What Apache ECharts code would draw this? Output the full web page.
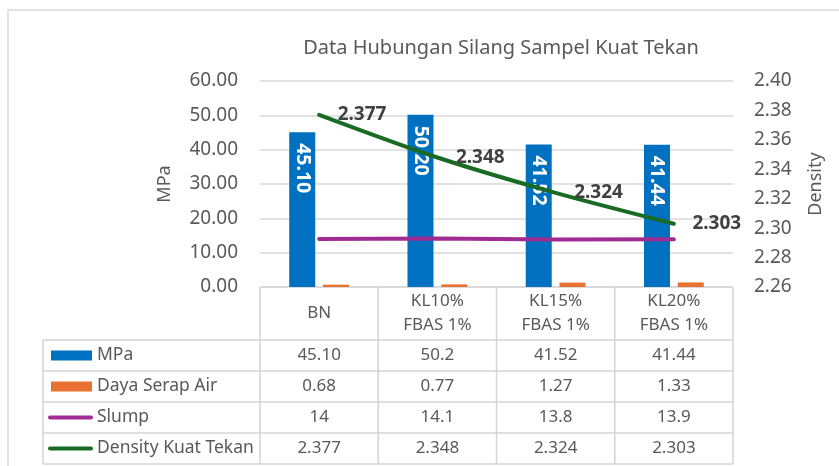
<!DOCTYPE html>
<html>
<head>
<meta charset="utf-8">
<script src="https://cdn.jsdelivr.net/npm/echarts@6/dist/echarts.min.js"></script>
<style>
  html, body { margin: 0; padding: 0; background: #fff; }
  #chart { width: 839px; height: 466px; }
</style>
</head>
<body>
<div id="chart"></div>
<script>
// data
const categories = ['BN', 'KL10%\nFBAS 1%', 'KL15%\nFBAS 1%', 'KL20%\nFBAS 1%'];
const mpa = [45.10, 50.2, 41.52, 41.44];
const mpaTableText = ['45.10', '50.2', '41.52', '41.44'];
const dayaSerapAir = [0.68, 0.77, 1.27, 1.33];
const slump = [14, 14.1, 13.8, 13.9];
const density = [2.377, 2.348, 2.324, 2.303];
const leftTicks = [0, 10, 20, 30, 40, 50, 60];
const rightTicks = [2.26, 2.28, 2.30, 2.32, 2.34, 2.36, 2.38, 2.40];

const FONT = 'Noto Sans';
const BLUE = '#0070C0', ORANGE = '#E97132', PURPLE = '#A02B93', GREEN = '#196B24';
const GRID_L = 260, GRID_R = 733, GRID_T = 81, GRID_B = 287;

const chart = echarts.init(document.getElementById('chart'));

// data table under the plot (built from the arrays above)
function buildTable() {
    const g = [];
    const colW = (GRID_R - GRID_L) / categories.length;
    const rowY = [GRID_B, 340, 371, 402, 433, 464];
    const legL = 43;
    const lineStyle = { stroke: '#d4d4d4', lineWidth: 1.5 };
    const rows = [
        { name: 'MPa', key: 'rect', color: BLUE, text: mpaTableText },
        { name: 'Daya Serap Air', key: 'rect', color: ORANGE, text: dayaSerapAir.map(String) },
        { name: 'Slump', key: 'line', color: PURPLE, text: slump.map(String) },
        { name: 'Density Kuat Tekan', key: 'line', color: GREEN, text: density.map(String) }
    ];
    // horizontal lines
    g.push({ type: 'line', shape: { x1: GRID_L, y1: rowY[0], x2: GRID_R, y2: rowY[0] }, style: lineStyle });
    for (let r = 1; r < rowY.length; r++) {
        g.push({ type: 'line', shape: { x1: legL, y1: rowY[r], x2: GRID_R, y2: rowY[r] }, style: lineStyle });
    }
    // vertical lines
    g.push({ type: 'line', shape: { x1: legL, y1: rowY[1], x2: legL, y2: rowY[5] }, style: lineStyle });
    for (let c = 0; c <= categories.length; c++) {
        const x = GRID_L + c * colW;
        g.push({ type: 'line', shape: { x1: x, y1: rowY[0], x2: x, y2: rowY[5] }, style: lineStyle });
    }
    // header
    categories.forEach((cat, c) => {
        g.push({
            type: 'text', x: GRID_L + (c + 0.5) * colW, y: (rowY[0] + rowY[1]) / 2,
            style: { text: cat, fill: '#595959', font: '17px "' + FONT + '"', align: 'center', verticalAlign: 'middle', lineHeight: 24 }
        });
    });
    // rows
    rows.forEach((row, r) => {
        const cy = (rowY[r + 1] + rowY[r + 2]) / 2;
        if (row.key === 'rect') {
            g.push({ type: 'rect', shape: { x: 51, y: cy - 5, width: 41, height: 10 }, style: { fill: row.color } });
        } else {
            g.push({ type: 'line', shape: { x1: 50, y1: cy, x2: 91, y2: cy }, style: { stroke: row.color, lineWidth: 4, lineCap: 'round' } });
        }
        g.push({
            type: 'text', x: 97, y: cy,
            style: { text: row.name, fill: '#595959', font: '17.5px "' + FONT + '"', align: 'left', verticalAlign: 'middle' }
        });
        row.text.forEach((t, c) => {
            g.push({
                type: 'text', x: GRID_L + (c + 0.5) * colW, y: cy,
                style: { text: t, fill: '#595959', font: '17px "' + FONT + '"', align: 'center', verticalAlign: 'middle' }
            });
        });
    });
    // chart frame
    g.push({ type: 'rect', shape: { x: 8, y: 10, width: 900, height: 500 }, style: { fill: 'none', stroke: '#d9d9d9', lineWidth: 1.5 }, z: -1 });
    return g;
}

const option = {
    backgroundColor: '#fff',
    animation: false,
    textStyle: { fontFamily: FONT },
    title: {
        text: 'Data Hubungan Silang Sampel Kuat Tekan',
        left: 496, top: 33, textAlign: 'center',
        textStyle: { color: '#595959', fontSize: 20, fontWeight: 'normal', fontFamily: FONT }
    },
    grid: { left: GRID_L, right: 839 - GRID_R, top: GRID_T, bottom: 466 - GRID_B, containLabel: false },
    xAxis: {
        type: 'category',
        data: categories,
        axisLine: { show: false },
        axisTick: { show: false },
        axisLabel: { show: false }
    },
    yAxis: [
        {
            type: 'value', min: leftTicks[0], max: leftTicks[leftTicks.length - 1], interval: 10,
            name: 'MPa', nameLocation: 'middle', nameGap: 86, nameRotate: 90,
            nameTextStyle: { color: '#595959', fontSize: 18 },
            axisLine: { show: false }, axisTick: { show: false },
            axisLabel: { color: '#595959', fontSize: 19, margin: 22, formatter: v => v.toFixed(2) },
            splitLine: { lineStyle: { color: '#d9d9d9', width: 1.5 } }
        },
        {
            type: 'value', min: rightTicks[0], max: rightTicks[rightTicks.length - 1], interval: 0.02,
            name: 'Density', nameLocation: 'middle', nameGap: 74, nameRotate: 90,
            nameTextStyle: { color: '#595959', fontSize: 18 },
            axisLine: { show: false }, axisTick: { show: false },
            axisLabel: { color: '#595959', fontSize: 19, margin: 21, formatter: v => v.toFixed(2) },
            splitLine: { show: false }
        }
    ],
    series: [
        {
            name: 'MPa', type: 'bar', data: mpa, barWidth: 26, barGap: '30%',
            itemStyle: { color: BLUE },
            label: {
                show: true, position: 'insideTop', rotate: -90, align: 'left', verticalAlign: 'middle',
                distance: 11, color: '#fff', fontSize: 19.5, fontWeight: 'bold',
                formatter: p => p.value.toFixed(2)
            }
        },
        {
            name: 'Daya Serap Air', type: 'bar', data: dayaSerapAir, barWidth: 26,
            itemStyle: { color: ORANGE }
        },
        {
            name: 'Slump', type: 'line', data: slump, symbol: 'none',
            lineStyle: { color: PURPLE, width: 4, cap: 'round' }, z: 3
        },
        {
            name: 'Density Kuat Tekan', type: 'line', data: density, yAxisIndex: 1,
            symbol: 'circle', symbolSize: 1, showSymbol: true, smooth: 0.3,
            itemStyle: { color: GREEN },
            lineStyle: { color: GREEN, width: 4, cap: 'round' }, z: 4,
            label: {
                show: true, position: 'right', distance: 18, color: '#404040', fontSize: 19, fontWeight: 'bold'
            },
            labelLayout: { hideOverlap: false }
        }
    ],
    graphic: buildTable()
};

chart.setOption(option);
</script>
</body>
</html>
